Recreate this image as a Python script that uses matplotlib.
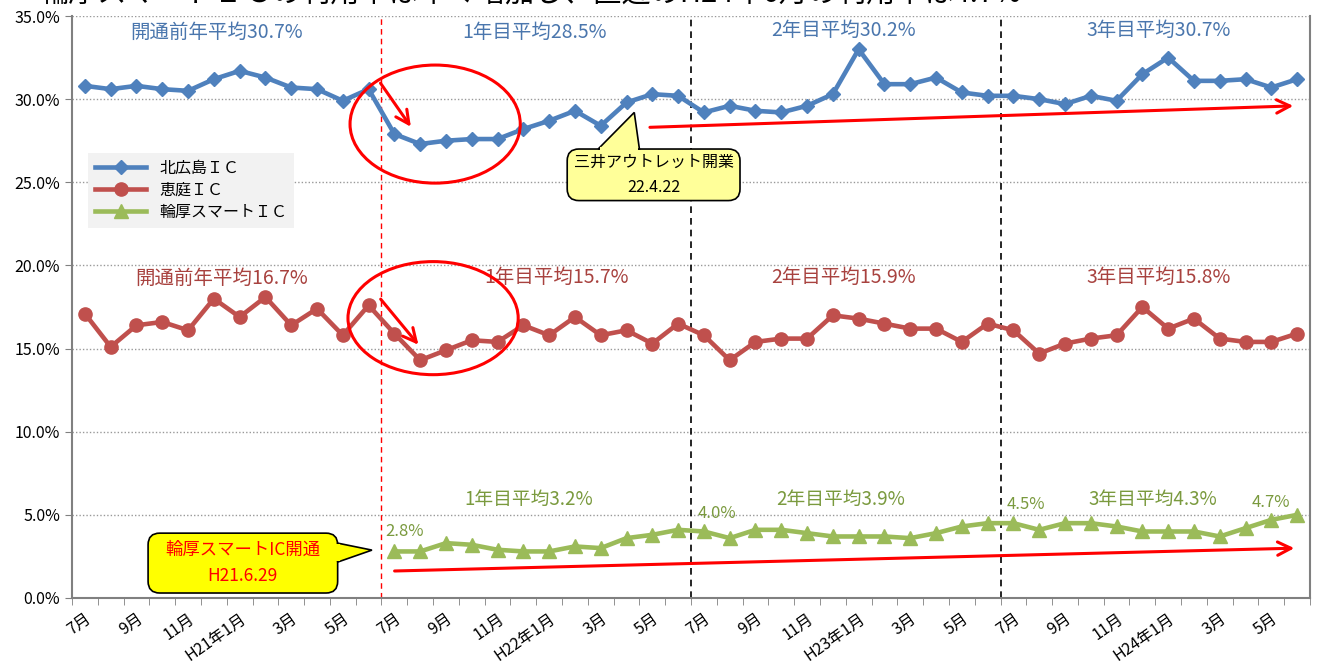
import numpy as np
import matplotlib
matplotlib.use('Agg')
import matplotlib.pyplot as plt
from matplotlib.patches import FancyBboxPatch, Polygon, Ellipse

plt.rcParams['font.family'] = ['Noto Sans CJK JP', 'DejaVu Sans']

# データ (H20年7月 〜 H24年6月、月別利用率 %)
tick_labels = ['7月', '9月', '11月', 'H21年1月', '3月', '5月',
               '7月', '9月', '11月', 'H22年1月', '3月', '5月',
               '7月', '9月', '11月', 'H23年1月', '3月', '5月',
               '7月', '9月', '11月', 'H24年1月', '3月', '5月']

kitahiroshima = [30.8, 30.6, 30.8, 30.6, 30.5, 31.2, 31.7, 31.3, 30.7, 30.6, 29.9, 30.6,
                 27.9, 27.3, 27.5, 27.6, 27.6, 28.2, 28.7, 29.3, 28.4, 29.8, 30.3, 30.2,
                 29.2, 29.6, 29.3, 29.2, 29.6, 30.3, 33.0, 30.9, 30.9, 31.3, 30.4, 30.2,
                 30.2, 30.0, 29.7, 30.2, 29.9, 31.5, 32.5, 31.1, 31.1, 31.2, 30.7, 31.2]
eniwa = [17.1, 15.1, 16.4, 16.6, 16.1, 18.0, 16.9, 18.1, 16.4, 17.4, 15.8, 17.6,
         15.9, 14.3, 14.9, 15.5, 15.4, 16.4, 15.8, 16.9, 15.8, 16.1, 15.3, 16.5,
         15.8, 14.3, 15.4, 15.6, 15.6, 17.0, 16.8, 16.5, 16.2, 16.2, 15.4, 16.5,
         16.1, 14.7, 15.3, 15.6, 15.8, 17.5, 16.2, 16.8, 15.6, 15.4, 15.4, 15.9]
wattsu = [2.8, 2.8, 3.3, 3.2, 2.9, 2.8, 2.8, 3.1, 3.0, 3.6, 3.8, 4.1,
          4.0, 3.6, 4.1, 4.1, 3.9, 3.7, 3.7, 3.7, 3.6, 3.9, 4.3, 4.5,
          4.5, 4.1, 4.5, 4.5, 4.3, 4.0, 4.0, 4.0, 3.7, 4.2, 4.7, 5.0]
wattsu_start = 12

# 平均値ラベル (テキスト, x, y)
blue_avg = [('開通前年平均30.7%', 5.1, 34.0), ('1年目平均28.5%', 17.45, 34.0),
            ('2年目平均30.2%', 29.4, 34.1), ('3年目平均30.7%', 41.65, 34.1)]
red_avg = [('開通前年平均16.7%', 5.3, 19.2), ('1年目平均15.7%', 18.3, 19.3),
           ('2年目平均15.9%', 29.4, 19.3), ('3年目平均15.8%', 41.65, 19.3)]
green_avg = [('1年目平均3.2%', 17.2, 5.9), ('2年目平均3.9%', 29.3, 5.95),
             ('3年目平均4.3%', 41.4, 5.95)]
green_pt = [('2.8%', 12.4, 3.97), ('4.0%', 24.5, 5.1), ('4.5%', 36.5, 5.6), ('4.7%', 46.0, 5.77)]

blue_c = '#4F81BD'
red_c = '#C0504D'
green_c = '#9BBB59'

n = len(kitahiroshima)
x = np.arange(n)

fig = plt.figure(figsize=(13.17, 6.68), dpi=100)
ax = fig.add_axes([72/1317, 1-598/668, 1238/1317, 582/668])

ax.plot(x, kitahiroshima, color=blue_c, lw=3.3, marker='D', ms=7.5, label='北広島ＩＣ', zorder=5)
ax.plot(x, eniwa, color=red_c, lw=3.3, marker='o', ms=9.5, label='恵庭ＩＣ', zorder=5)
ax.plot(x[wattsu_start:], wattsu, color=green_c, lw=3.3, marker='^', ms=9.5, label='輪厚スマートＩＣ', zorder=5)

ax.set_xlim(-0.5, n - 0.5)
ax.set_ylim(0, 35)
ax.set_yticks(np.arange(0, 36, 5))
ax.set_yticklabels([f'{v:.1f}%' for v in np.arange(0, 36, 5)], fontsize=11.5)
ax.yaxis.grid(True, linestyle=(0, (1, 1.5)), color='#999999', lw=1)
ax.set_axisbelow(True)

ax.set_xticks(np.arange(0, n, 2))
ax.set_xticklabels(tick_labels, rotation=35, ha='right', va='top', rotation_mode='anchor', fontsize=11.5)
ax.set_xticks(np.arange(-0.5, n, 1), minor=True)
ax.tick_params(axis='x', which='major', length=0, pad=9)
ax.tick_params(axis='x', which='minor', length=5, color='#808080')
ax.tick_params(axis='y', length=5, color='#808080')

for s in ['left', 'bottom', 'right']:
    ax.spines[s].set_color('#808080')
    ax.spines[s].set_linewidth(1.5)
ax.spines['top'].set_visible(False)

# 区切り線
ax.axvline(11.5, color='red', ls=(0, (4, 3)), lw=1)
ax.axvline(23.5, color='black', ls=(0, (4, 3)), lw=1.2)
ax.axvline(35.5, color='black', ls=(0, (4, 3)), lw=1.2)

for t, tx, ty in blue_avg:
    ax.text(tx, ty, t, color='#4A76AD', fontsize=14, ha='center', va='center')
for t, tx, ty in red_avg:
    ax.text(tx, ty, t, color='#A8423F', fontsize=14, ha='center', va='center')
for t, tx, ty in green_avg:
    ax.text(tx, ty, t, color='#7A9A3E', fontsize=13.5, ha='center', va='center')
for t, tx, ty in green_pt:
    ax.text(tx, ty, t, color='#7A9A3E', fontsize=12, ha='center', va='center')

# 丸印と矢印
ax.add_patch(Ellipse((13.58, 28.5), 6.6, 7.1, fill=False, ec='red', lw=2.2, zorder=6))
ax.add_patch(Ellipse((13.5, 16.83), 6.6, 6.8, fill=False, ec='red', lw=2.2, zorder=6))
arrow = dict(arrowstyle='->', color='red', lw=2.2, mutation_scale=24)
ax.annotate('', xy=(12.7, 28.2), xytext=(11.4, 31.1), arrowprops=arrow, zorder=7)
ax.annotate('', xy=(13.0, 15.1), xytext=(11.4, 18.1), arrowprops=arrow, zorder=7)
ax.annotate('', xy=(46.96, 29.6), xytext=(21.8, 28.3), arrowprops=arrow, zorder=7)
ax.annotate('', xy=(47.0, 3.0), xytext=(11.9, 1.62), arrowprops=arrow, zorder=7)


def callout(x0, y0, x1, y1, tri, base, fc, text, tc, fs):
    box = FancyBboxPatch((x0, y0), x1 - x0, y1 - y0,
                         boxstyle='round,pad=0,rounding_size=0.45', mutation_aspect=1.55,
                         fc=fc, ec='black', lw=1.2, zorder=8)
    ax.add_patch(box)
    ax.add_patch(Polygon(tri, closed=True, fc=fc, ec='black', lw=1.2, zorder=9))
    ax.plot(base[0], base[1], color=fc, lw=3, zorder=10, solid_capstyle='butt')
    ax.text((x0 + x1) / 2, (y0 + y1) / 2, text, color=tc, fontsize=fs, ha='center',
            va='center', linespacing=1.6, zorder=11)


callout(18.7, 23.9, 25.4, 27.0,
        [(19.9, 27.0), (21.3, 29.2), (21.5, 27.0)],
        ([19.96, 21.44], [27.0, 27.0]),
        '#FFFF99', '三井アウトレット開業\n22.4.22', 'black', 11.5)
callout(2.45, 0.3, 9.8, 3.9,
        [(9.8, 3.3), (11.13, 2.88), (9.8, 2.16)],
        ([9.8, 9.8], [3.25, 2.21]),
        '#FFFF00', '輪厚スマートIC開通\nH21.6.29', 'red', 12.5)

leg = ax.legend(loc='upper left', bbox_to_anchor=(0.013, 0.765), fontsize=11.5,
                frameon=True, fancybox=False, handlelength=3.2, borderpad=0.45,
                labelspacing=0.3, borderaxespad=0)
leg.get_frame().set_facecolor('#F2F2F2')
leg.get_frame().set_edgecolor('none')
leg.get_frame().set_alpha(1)

fig.text(40/1317, 1 + 6/668, '輪厚スマートＩＣの利用率は年々増加し、直近のH24年6月の利用率は4.7%',
         fontsize=21, ha='left', va='center')

fig.savefig('out.png', dpi=100)
